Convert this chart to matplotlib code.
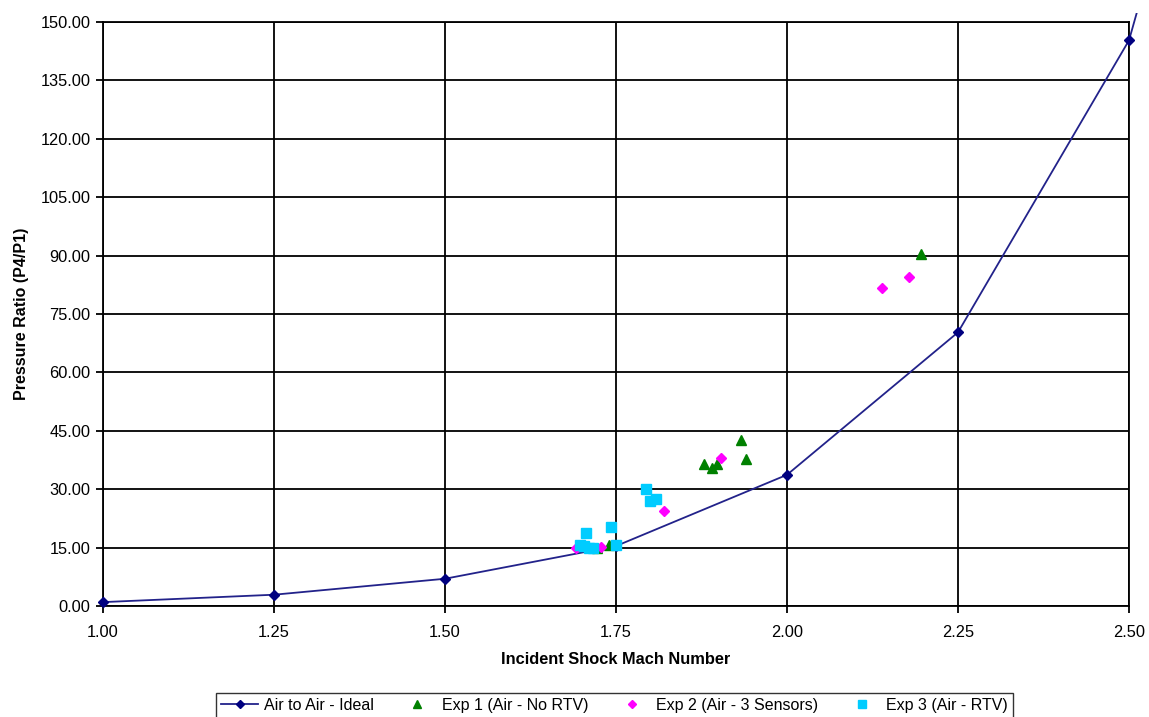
import matplotlib
matplotlib.use("Agg")
import matplotlib.pyplot as plt
from matplotlib.patches import Rectangle

plt.rcParams["font.family"] = ["Liberation Sans", "DejaVu Sans"]

# ideal air-to-air curve (last point lies past the axis limit)
mach_ideal = [1.00, 1.25, 1.50, 1.75, 2.00, 2.25, 2.50, 2.75]
ratio_ideal = [1.0, 2.9, 7.0, 15.4, 33.7, 70.3, 145.3, 301.0]

exp1_mach = [1.722, 1.740, 1.879, 1.890, 1.897, 1.933, 1.940, 2.196]
exp1_ratio = [14.8, 15.7, 36.6, 35.4, 36.6, 42.6, 37.7, 90.4]

exp2_mach = [1.692, 1.728, 1.820, 1.903, 2.139, 2.179]
exp2_ratio = [15.0, 15.2, 24.5, 37.9, 81.6, 84.4]

exp3_mach = [1.697, 1.706, 1.703, 1.710, 1.716, 1.742, 1.750, 1.794, 1.800, 1.809]
exp3_ratio = [15.7, 18.7, 15.5, 15.0, 14.8, 20.3, 15.6, 30.0, 27.0, 27.4]

x_ticks = [1.00, 1.25, 1.50, 1.75, 2.00, 2.25, 2.50]
y_ticks = [0, 15, 30, 45, 60, 75, 90, 105, 120, 135, 150]

fig = plt.figure(figsize=(11.49, 7.17), dpi=100)
ax = fig.add_axes([0.0896, 0.1548, 0.893, 0.8145])

line, = ax.plot(mach_ideal, ratio_ideal, color="#22228a", lw=1.3,
                marker="D", ms=5, mfc="#000080", mec="#000080",
                label="Air to Air - Ideal", zorder=3)
# let the curve run a little past the plot frame
clip = Rectangle((-0.01, -0.02), 1.02, 1.035, transform=ax.transAxes)
line.set_clip_path(clip)

ax.plot(exp1_mach, exp1_ratio, ls="none", marker="^", ms=7.5,
        color="#008000", label="Exp 1 (Air - No RTV)", zorder=4)
ax.plot(exp2_mach, exp2_ratio, ls="none", marker="D", ms=5.5,
        color="#ff00ff", label="Exp 2 (Air - 3 Sensors)", zorder=5)
ax.plot(exp3_mach, exp3_ratio, ls="none", marker="s", ms=7.5,
        color="#00ccff", label="Exp 3 (Air - RTV)", zorder=6)

ax.set_xlim(1.0, 2.5)
ax.set_ylim(0, 150)
ax.set_xticks(x_ticks)
ax.set_yticks(y_ticks)
ax.set_xticklabels([f"{v:.2f}" for v in x_ticks])
ax.set_yticklabels([f"{v:.2f}" for v in y_ticks])
ax.tick_params(axis="both", labelsize=11.8, length=5, width=1.3,
               direction="out", colors="black", pad=4)
ax.tick_params(axis="x", pad=9)

ax.grid(True, color="black", lw=1.3)
ax.set_axisbelow(True)
for sp in ax.spines.values():
    sp.set_color("black")
    sp.set_linewidth(1.3)

ax.set_xlabel("Incident Shock Mach Number", fontsize=11.8,
              fontweight="bold", labelpad=8)
ax.set_ylabel("Pressure Ratio (P4/P1)", fontsize=11.5,
              fontweight="bold", labelpad=8)

leg = fig.legend(loc="center", bbox_to_anchor=(0.535, 0.016), ncol=4,
                 fontsize=11.5, frameon=True, fancybox=False,
                 handlelength=2.3, handletextpad=0.4, columnspacing=1.55,
                 borderpad=0.3, markerscale=0.8)
leg.get_frame().set_edgecolor("black")
leg.get_frame().set_linewidth(1.0)

fig.savefig("out.png", dpi=100)
